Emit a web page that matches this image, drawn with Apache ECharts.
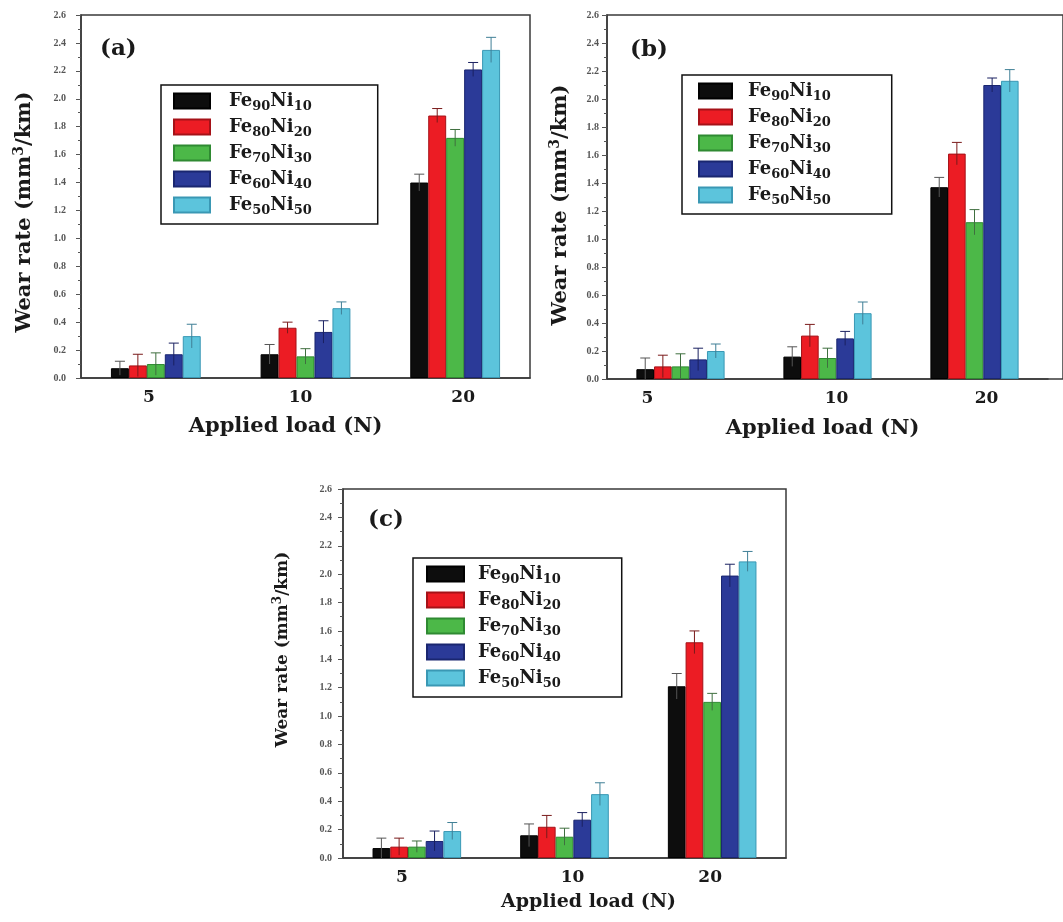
<!DOCTYPE html>
<html>
<head>
<meta charset="utf-8">
<script src="https://cdn.jsdelivr.net/npm/echarts@6/dist/echarts.min.js"></script>
<style>
  html, body { margin: 0; padding: 0; background: #fff; }
  #chart { width: 1063px; height: 922px; }
</style>
</head>
<body>
<div id="chart"></div>
<script>
// Applied loads (N) on the x axis
const loads = ['5', '10', '20'];
// Alloy compositions, one bar per alloy in each load group
const alloys = ['Fe90Ni10', 'Fe80Ni20', 'Fe70Ni30', 'Fe60Ni40', 'Fe50Ni50'];
// Y axis ticks (mm³/km)
const yTicks = { min: 0, max: 2.6, step: 0.2 };

// Wear rate, rows = alloys (same order as above), columns = loads
const wearA = [
  [0.07, 0.17, 1.40],
  [0.09, 0.36, 1.88],
  [0.10, 0.155, 1.72],
  [0.17, 0.33, 2.21],
  [0.30, 0.50, 2.35]
];
const errA = [
  [0.05, 0.07, 0.06],
  [0.08, 0.04, 0.05],
  [0.08, 0.055, 0.06],
  [0.08, 0.08, 0.05],
  [0.085, 0.045, 0.09]
];
const wearB = [
  [0.07, 0.16, 1.37],
  [0.09, 0.31, 1.61],
  [0.09, 0.15, 1.12],
  [0.14, 0.29, 2.10],
  [0.20, 0.47, 2.13]
];
const errB = [
  [0.08, 0.07, 0.07],
  [0.08, 0.08, 0.08],
  [0.09, 0.07, 0.09],
  [0.08, 0.05, 0.05],
  [0.05, 0.08, 0.08]
];
const wearC = [
  [0.07, 0.16, 1.21],
  [0.08, 0.22, 1.52],
  [0.08, 0.15, 1.10],
  [0.12, 0.27, 1.99],
  [0.19, 0.45, 2.09]
];
const errC = [
  [0.07, 0.08, 0.09],
  [0.06, 0.08, 0.08],
  [0.04, 0.06, 0.06],
  [0.07, 0.05, 0.08],
  [0.06, 0.08, 0.07]
];
const panelTags = ['(a)', '(b)', '(c)'];
const xTitle = 'Applied load (N)';

// ---- styling ----
const FONT = '"DejaVu Serif", "Liberation Serif", serif';
const fill = ['#0d0d0d', '#ec1c24', '#4cb848', '#2b3a98', '#5cc4dc'];
const edge = ['#000000', '#a51218', '#2f8a32', '#1a2670', '#3a98b4'];
const whisker = ['#555555', '#7a1a1a', '#3f6f3f', '#1a2060', '#3f7f96'];
const AX = '#3a3a3a';

// layout of the three panels
const panels = [
  { wear: wearA, err: errA,
    grid: { left: 81, top: 15, width: 449, height: 363 },
    legend: { left: 161, top: 85, padding: [7, 66, 7, 12], itemWidth: 36, textPad: 14 },
    tag: { x: 100, y: 52 },
    yLabelMargin: 15, yNameGap: 44, yNamePad: [0, 31, 0, 0], yNameSize: 21,
    xNameGap: 38, xNamePad: [0, 40, 0, 0], xNameSize: 21, xLabelShift: [-7, -5, 8] },
  { wear: wearB, err: errB,
    grid: { left: 607, top: 15, width: 441, height: 364 },
    legend: { left: 682, top: 75, padding: [7, 61, 7, 16], itemWidth: 33, textPad: 11 },
    tag: { x: 630, y: 53 },
    yLabelMargin: 8, yNameGap: 34, yNamePad: [0, 16, 0, 0], yNameSize: 21,
    xNameGap: 39, xNamePad: [0, 10, 0, 0], xNameSize: 21, xLabelShift: [-33, 9, 12] },
  { wear: wearC, err: errC,
    grid: { left: 343, top: 489, width: 443, height: 369 },
    legend: { left: 413, top: 558, padding: [7, 61, 7, 13], itemWidth: 37, textPad: 9 },
    tag: { x: 368, y: 523 },
    yLabelMargin: 11, yNameGap: 50, yNamePad: [0, 0, 0, 48], yNameSize: 17,
    xNameGap: 35, xNamePad: [0, 0, 0, 48], xNameSize: 19, xLabelShift: [-15, 8, -2] }
];

const BAR_CAT_GAP = 0.4;

function legendRich(name) {
  const m = name.match(/^Fe(\d+)Ni(\d+)$/);
  return '{m|Fe}{s|' + m[1] + '}{m|Ni}{s|' + m[2] + '}';
}

function errorBar(idx, color) {
  return function (params, api) {
    const cat = api.value(0), v = api.value(1), e = api.value(2);
    const band = api.size([1, 0])[0];
    const bw = band * (1 - BAR_CAT_GAP) / alloys.length;
    const x = api.coord([cat, 0])[0] - band * (1 - BAR_CAT_GAP) / 2 + bw * (idx + 0.5);
    const yTop = api.coord([cat, v + e])[1];
    const yBot = api.coord([cat, Math.max(0, v - e)])[1];
    const cap = bw * 0.28;
    const st = { stroke: color, lineWidth: 1 };
    return {
      type: 'group',
      children: [
        { type: 'line', shape: { x1: x, y1: yTop, x2: x, y2: yBot }, style: st },
        { type: 'line', shape: { x1: x - cap, y1: yTop, x2: x + cap, y2: yTop }, style: st }
      ]
    };
  };
}

const grids = [], xAxes = [], yAxes = [], legends = [], series = [], graphics = [];

panels.forEach((p, pi) => {
  grids.push(Object.assign({
    show: pi !== 1, borderColor: AX, borderWidth: 1.5, backgroundColor: '#fff'
  }, p.grid));

  const labelRich = {};
  p.xLabelShift.forEach((d, k) => {
    labelRich['p' + k] = {
      fontFamily: FONT, fontWeight: 'bold', fontSize: 17, color: '#1a1a1a',
      padding: d < 0 ? [0, -2 * d, 0, 0] : [0, 0, 0, 2 * d]
    };
  });

  xAxes.push({
    type: 'category', gridIndex: pi, data: loads,
    axisLine: { show: true, lineStyle: { color: AX, width: 1.5 } },
    axisTick: { show: false },
    axisLabel: {
      margin: 11,
      formatter: (v, k) => '{p' + k + '|' + v + '}',
      rich: labelRich
    },
    name: xTitle, nameLocation: 'middle', nameGap: p.xNameGap,
    nameTextStyle: {
      fontFamily: FONT, fontWeight: 'bold', fontSize: p.xNameSize, color: '#1a1a1a',
      padding: p.xNamePad
    },
    splitLine: { show: false }
  });

  yAxes.push({
    type: 'value', gridIndex: pi,
    min: yTicks.min, max: yTicks.max, interval: yTicks.step,
    axisLine: { show: true, lineStyle: { color: AX, width: 1.5 } },
    axisTick: { show: true, inside: false, length: 5, lineStyle: { color: '#555', width: 1 } },
    minorTick: { show: true, splitNumber: 2, length: 3, lineStyle: { color: '#555', width: 1 } },
    splitLine: { show: false },
    axisLabel: {
      margin: p.yLabelMargin, color: '#555', fontFamily: '"Liberation Serif", serif',
      fontWeight: 'bold', fontSize: 10,
      formatter: v => v.toFixed(1)
    },
    name: 'Wear rate (mm3/km)', nameLocation: 'middle', nameGap: p.yNameGap, nameRotate: 90,
    nameTextStyle: {
      padding: p.yNamePad,
      rich: {
        t: { fontFamily: FONT, fontWeight: 'bold', fontSize: p.yNameSize, color: '#1a1a1a' },
        u: { fontFamily: FONT, fontWeight: 'bold', fontSize: Math.round(p.yNameSize * 0.68),
             color: '#1a1a1a', verticalAlign: 'top', lineHeight: p.yNameSize + 4 }
      }
    }
  });

  legends.push({
    show: true, orient: 'vertical',
    left: p.legend.left, top: p.legend.top, padding: p.legend.padding,
    backgroundColor: '#fff', borderColor: '#111', borderWidth: 1.5,
    itemWidth: p.legend.itemWidth, itemHeight: 15, itemGap: 5,
    icon: 'rect', selectedMode: false,
    data: alloys,
    formatter: legendRich,
    textStyle: {
      padding: [0, 0, 0, p.legend.textPad],
      rich: {
        m: { fontFamily: FONT, fontWeight: 'bold', fontSize: 18, lineHeight: 24, color: '#1a1a1a' },
        s: { fontFamily: FONT, fontWeight: 'bold', fontSize: 13, lineHeight: 13,
             verticalAlign: 'bottom', color: '#1a1a1a' }
      }
    }
  });

  alloys.forEach((name, i) => {
    series.push({
      type: 'bar', name: name, xAxisIndex: pi, yAxisIndex: pi,
      data: p.wear[i],
      barGap: '0%', barCategoryGap: (BAR_CAT_GAP * 100) + '%',
      itemStyle: { color: fill[i], borderColor: edge[i], borderWidth: 1 },
      z: 2
    });
  });
  alloys.forEach((name, i) => {
    series.push({
      type: 'custom', name: 'err ' + name, xAxisIndex: pi, yAxisIndex: pi,
      data: loads.map((_, k) => [k, p.wear[i][k], p.err[i][k]]),
      encode: { x: 0, y: 1 },
      renderItem: errorBar(i, whisker[i]),
      z: 3, silent: true
    });
  });

  graphics.push({
    type: 'text', left: p.tag.x, top: p.tag.y - 14, z: 10,
    style: { text: panelTags[pi], fontFamily: FONT, fontWeight: 'bold', fontSize: 23, fill: '#1a1a1a' }
  });
});

// frame of panel (b), running on past the right edge of the canvas
grids.push({ left: 607, top: 15, right: -40, height: 364, show: true,
  borderColor: AX, borderWidth: 1.5, z: 0 });
xAxes.push({ type: 'value', gridIndex: 3, show: false });
yAxes.push({ type: 'value', gridIndex: 3, show: false });

// rich y-axis names with superscript
yAxes.forEach(a => { if (a.name) a.name = '{t|Wear rate (mm}{u|3}{t|/km)}'; });

const chart = echarts.init(document.getElementById('chart'), null, { renderer: 'canvas' });
chart.setOption({
  animation: false,
  backgroundColor: '#fff',
  grid: grids,
  xAxis: xAxes,
  yAxis: yAxes,
  legend: legends,
  series: series,
  graphic: graphics
});
</script>
</body>
</html>
